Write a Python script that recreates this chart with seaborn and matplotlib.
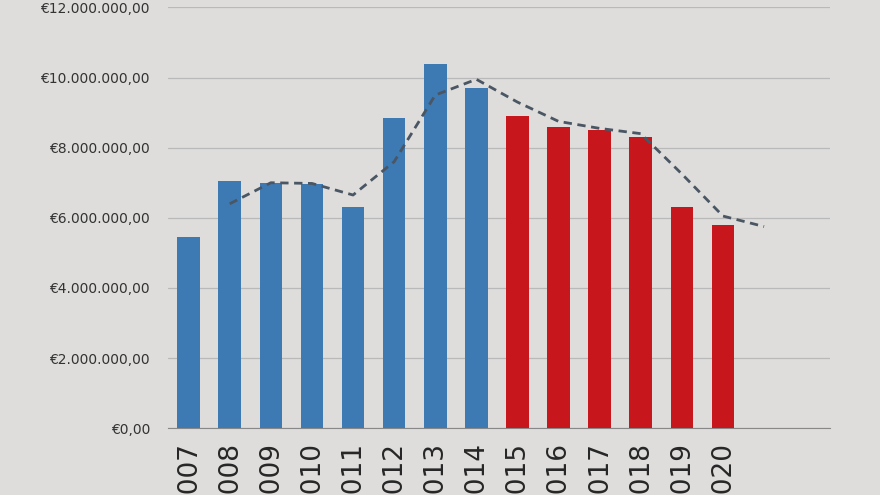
import pandas as pd
import seaborn as sns
import matplotlib.pyplot as plt
from matplotlib.ticker import FuncFormatter, MultipleLocator

# Data (values in euro)
years = ['2007', '2008', '2009', '2010', '2011', '2012', '2013',
         '2014', '2015', '2016', '2017', '2018', '2019', '2020']
values = [5.45e6, 7.05e6, 7.0e6, 6.95e6, 6.3e6, 8.85e6, 10.4e6,
          9.7e6, 8.9e6, 8.6e6, 8.5e6, 8.3e6, 6.3e6, 5.8e6]
period = ['past'] * 8 + ['forecast'] * 6

# dashed trend line, starts at 2008 and runs one slot past 2020
trend_x = [1, 2, 3, 4, 5, 6, 7, 8, 9, 10, 11, 12, 13, 14]
trend = [6.4e6, 7.0e6, 6.98e6, 6.65e6, 7.6e6, 9.5e6, 9.95e6,
         9.3e6, 8.75e6, 8.55e6, 8.4e6, 7.25e6, 6.05e6, 5.75e6]

data = pd.DataFrame({'Year': years, 'Value': values, 'Period': period})

bg = '#dedddb'
sns.set_style('white')
fig, ax = plt.subplots(figsize=(8.8, 4.95), dpi=100)
fig.patch.set_facecolor(bg)
ax.set_facecolor(bg)
fig.subplots_adjust(left=0.191, right=0.943, top=0.985, bottom=0.135)

sns.barplot(data=data, x='Year', y='Value', hue='Period',
            palette={'past': '#3d79b3', 'forecast': '#c8161d'},
            saturation=1, dodge=False, width=0.55, legend=False,
            linewidth=0, ax=ax, zorder=3)
ax.plot(trend_x, trend, linestyle=(0, (3, 2)), color='#4a5663',
        linewidth=2, zorder=4)

ax.set_ylim(0, 12e6)
ax.set_xlim(-0.5, 15.6)
ax.yaxis.set_major_locator(MultipleLocator(2e6))
ax.yaxis.set_major_formatter(FuncFormatter(
    lambda v, p: '€' + f'{v:,.2f}'.replace(',', 'X').replace('.', ',').replace('X', '.')))
ax.grid(axis='y', color='#b9b9b9', linewidth=0.9, zorder=0)
ax.tick_params(axis='y', labelsize=10, colors='#333333', length=0, pad=13)
ax.tick_params(axis='x', labelsize=19, rotation=90, length=0, pad=10)
ax.set_xlabel('')
ax.set_ylabel('')
for s in ['top', 'right', 'left']:
    ax.spines[s].set_visible(False)
ax.spines['bottom'].set_color('#888888')

plt.savefig('out.png', dpi=100, facecolor=bg)
